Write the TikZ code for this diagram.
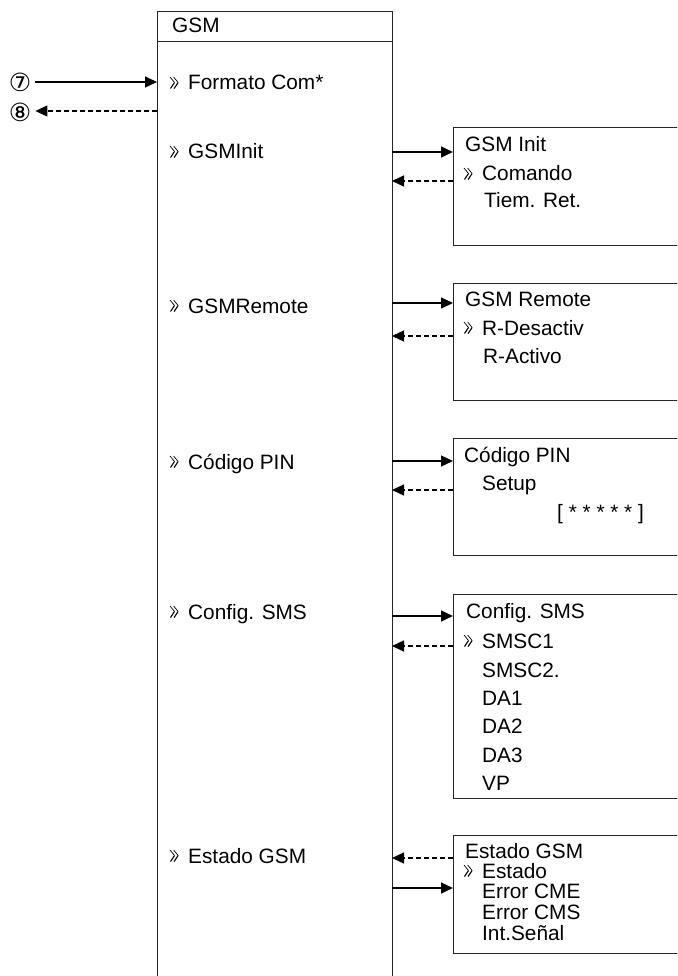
\documentclass[tikz,border=0pt]{standalone}
\usepackage{fontspec}
\setmainfont{Liberation Sans}
\newfontfamily\djv{DejaVu Sans}
\usetikzlibrary{arrows.meta}
\begin{document}
\begin{tikzpicture}[x=1pt,y=-1pt,
  txt/.style={anchor=base west,inner sep=0pt,font=\fontsize{20.8}{24}\selectfont},
  boxline/.style={draw=black!85,line width=1pt},
  rbox/.style={boxline,anchor=north west,minimum width=300pt,inner sep=0pt,outer sep=0pt},
  sarr/.style={line width=1.3pt,-{Triangle[length=12pt,width=11pt]}},
  darr/.style={sarr,dash pattern=on 5pt off 3pt},
  circnum/.style={inner sep=0pt,font=\djv\fontsize{25}{26}\selectfont},
  mk/.pic={\draw[line width=0.7pt] (0,-13)--(4.5,-7.5) (3.6,-13)--(8.1,-7.5);
           \draw[line width=1.1pt] (4.5,-7.5)--(0.5,-1.5) (8.1,-7.5)--(4.1,-1.5);}
]
\useasboundingbox (0,0) rectangle (677,976);
\clip (0,0) rectangle (677,976);
% main box
\node[boxline,anchor=north west,minimum width=235pt,minimum height=1000pt,inner sep=0pt,outer sep=0pt] (main) at (157,12) {};
\draw[boxline] ([yshift=-30pt]main.north west) -- ([yshift=-30pt]main.north east);
\node[txt] (hdr) at (172,33) {GSM};
% main items
\node[txt] (i1) at (188,90) {Formato Com*};   \pic at (170,90) {mk};
\node[txt] (i2) at (188,159) {GSMInit};       \pic at (170,159) {mk};
\node[txt] (i3) at (188,313) {GSMRemote};     \pic at (170,313) {mk};
\node[txt] (i4) at (188,469) {Código PIN};    \pic at (170,469) {mk};
\node[txt] (i5) at (188,619) {Config. SMS};   \pic at (170,619) {mk};
\node[txt] (i6) at (188,863) {Estado GSM};    \pic at (170,863) {mk};
% circled numbers
\node[circnum] (n7) at (20,82) {⑦};
\node[circnum] (n8) at (20,112) {⑧};
\path (0,82) coordinate (y7) (0,111) coordinate (y8);
\draw[sarr] ([xshift=4pt]n7.east |- y7) -- (main.west |- y7);
\draw[darr] (main.west |- y8) -- ([xshift=4pt]n8.east |- y8);
% right boxes
\node[rbox,minimum height=117pt] (b1) at (453,128) {};
\node[rbox,minimum height=117pt] (b2) at (453,283) {};
\node[rbox,minimum height=117pt] (b3) at (453,438) {};
\node[rbox,minimum height=204pt] (b4) at (453,594) {};
\node[rbox,minimum height=118pt] (b5) at (453,835) {};
% box 1
\node[txt] (t11) at (465,152) {GSM Init};
\node[txt] (t12) at (482,181) {Comando}; \pic at (464,181) {mk};
\node[txt] (t13) at (484,208) {Tiem. Ret.};
% box 2
\node[txt] (t21) at (465,306) {GSM Remote};
\node[txt] (t22) at (482,335) {R-Desactiv}; \pic at (464,335) {mk};
\node[txt] (t23) at (483,363) {R-Activo};
% box 3
\node[txt] (t31) at (464,462) {Código PIN};
\node[txt] (t32) at (482,490) {Setup};
\node[txt] (t33) at (557,519) {[ * * * * * ]};
% box 4
\node[txt] (t41) at (466,618) {Config. SMS};
\node[txt] (t42) at (482,648) {SMSC1}; \pic at (464,648) {mk};
\node[txt] (t43) at (482,677) {SMSC2.};
\node[txt] (t44) at (482,705) {DA1};
\node[txt] (t45) at (482,733) {DA2};
\node[txt] (t46) at (482,762) {DA3};
\node[txt] (t47) at (482,790) {VP};
% box 5
\node[txt] (t51) at (465,858) {Estado GSM};
\node[txt] (t52) at (482,878) {Estado}; \pic at (464,878) {mk};
\node[txt] (t53) at (482,898) {Error CME};
\node[txt] (t54) at (482,919) {Error CMS};
\node[txt] (t55) at (482,940) {Int.Señal};
% arrow levels
\path (0,152) coordinate (s1) (0,181) coordinate (d1)
      (0,303) coordinate (s2) (0,336) coordinate (d2)
      (0,461) coordinate (s3) (0,490) coordinate (d3)
      (0,616) coordinate (s4) (0,646) coordinate (d4)
      (0,888) coordinate (s5) (0,858) coordinate (d5);
\foreach \k in {1,...,5}{
  \draw[sarr] (main.east |- s\k) -- (b\k.west |- s\k);
  \draw[darr] (b\k.west |- d\k) -- (main.east |- d\k);
}
\end{tikzpicture}
\end{document}
